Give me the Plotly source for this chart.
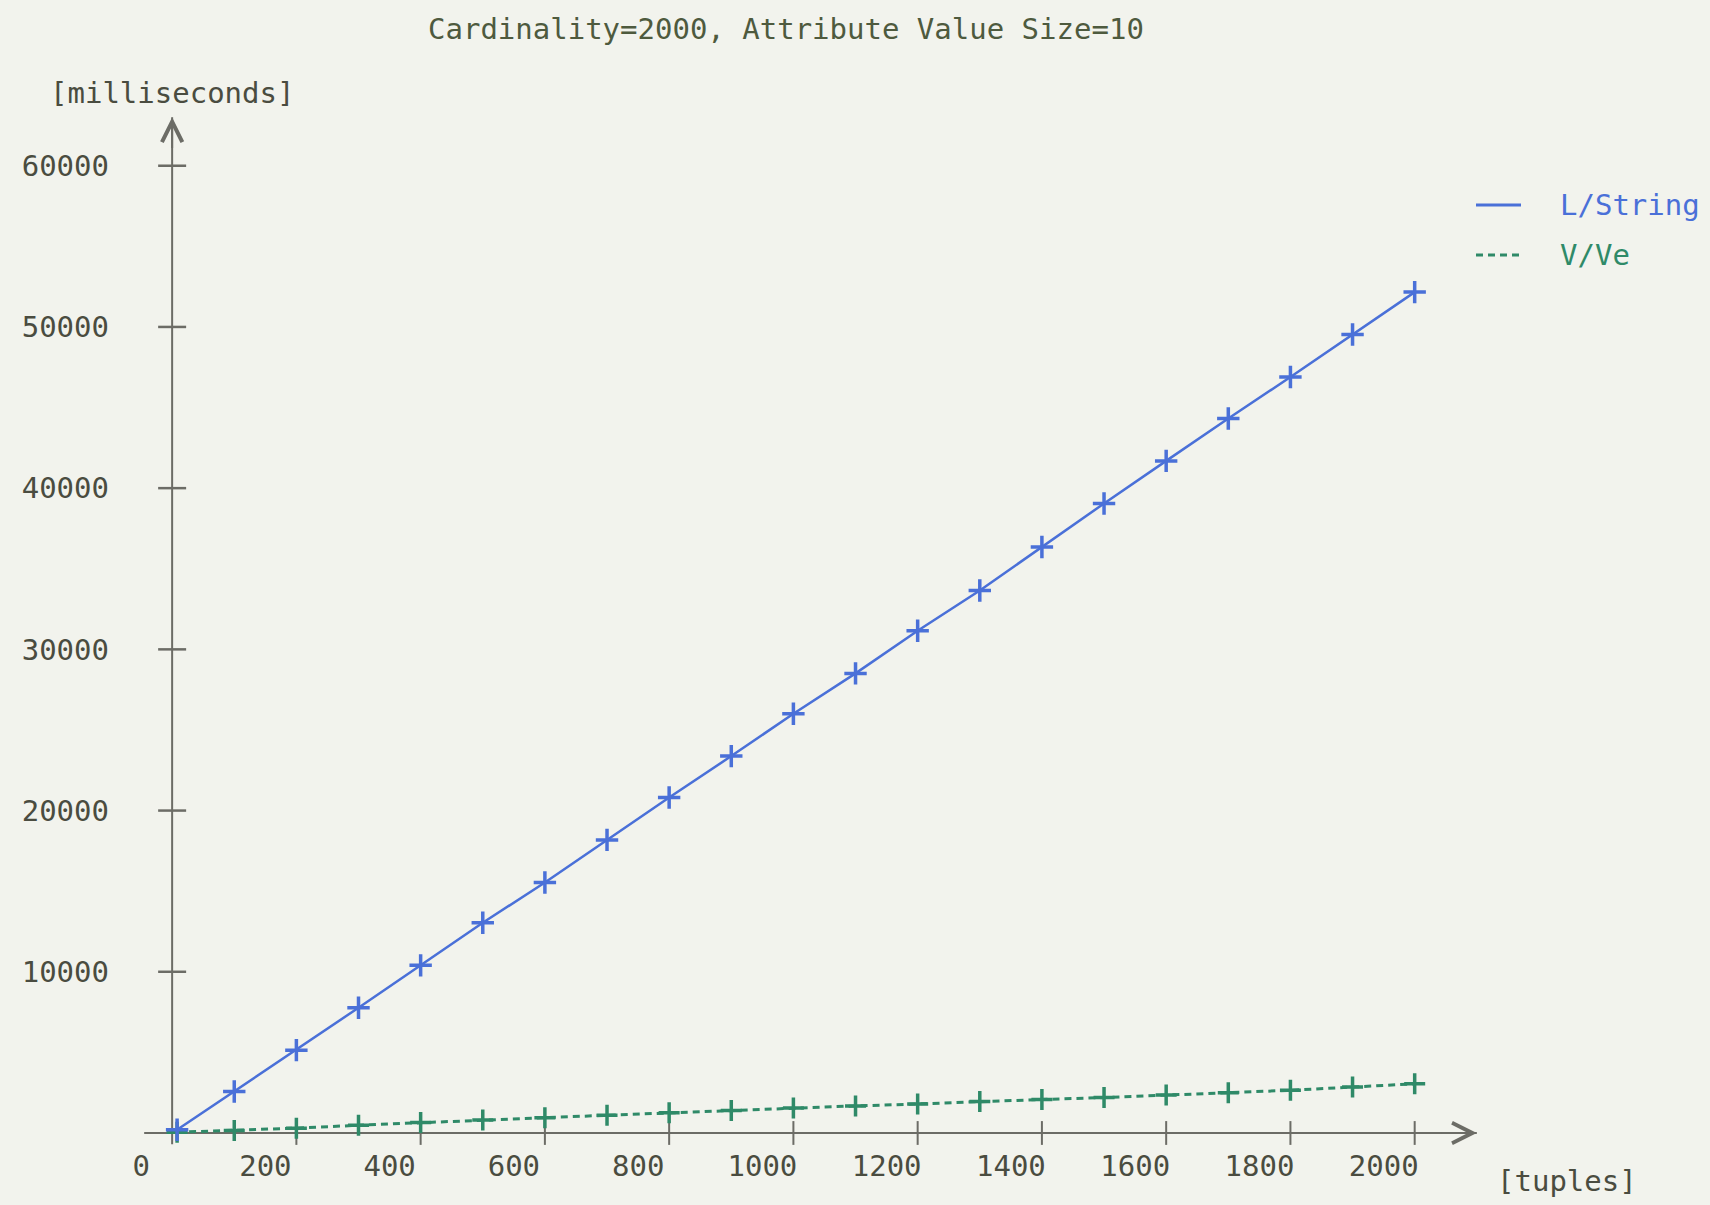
import plotly.graph_objects as go

# Measured run times for the two storage layouts
tuples = [8, 100, 200, 300, 400, 500, 600, 700, 800, 900, 1000,
          1100, 1200, 1300, 1400, 1500, 1600, 1700, 1800, 1900, 2000]
l_string_ms = [200, 2570, 5140, 7770, 10400, 13040, 15540, 18180, 20810, 23380, 26010,
               28510, 31150, 33650, 36350, 39050, 41690, 44320, 46890, 49530, 52160]
v_ve_ms = [50, 150, 300, 480, 650, 800, 950, 1100, 1250, 1400, 1550,
           1680, 1800, 1950, 2080, 2200, 2350, 2500, 2650, 2850, 3050]

series_names = ["L/String", "V/Ve"]

x_ticks = [0, 200, 400, 600, 800, 1000, 1200, 1400, 1600, 1800, 2000]
x_tick_text = ["0", "200", "400", "600", "800", "1000", "1200", "1400", "1600", "1800", "2000"]
y_ticks = [10000, 20000, 30000, 40000, 50000, 60000]
y_tick_text = ["10000", "20000", "30000", "40000", "50000", "60000"]

title_text = "Cardinality=2000, Attribute Value Size=10"
x_title = "[tuples]"
y_title = "[milliseconds]"

# Axis extents (arrow tips) in data units
x_axis_start, x_axis_end = -45, 2100
y_axis_start, y_axis_end = -700, 63000

BG = "#f2f3ed"
AXIS = "#6c6c66"
TEXT = "#4a4c40"
BLUE = "#4a70d8"
GREEN = "#2f8a68"
FONT = "DejaVu Sans Mono"
FS = 29

W, H = 1710, 1205
ML, MR, MT, MB = 110, 140, 69, 55
pw, ph = W - ML - MR, H - MT - MB


def px_to_paper(px, py):
    return (px - ML) / pw, (H - MB - py) / ph


fig = go.Figure()

# Axis lines
fig.add_trace(go.Scatter(x=[x_axis_start, x_axis_end], y=[0, 0], mode="lines",
                         line=dict(color=AXIS, width=2), hoverinfo="skip", showlegend=False))
fig.add_trace(go.Scatter(x=[0, 0], y=[y_axis_start, y_axis_end], mode="lines",
                         line=dict(color=AXIS, width=2), hoverinfo="skip", showlegend=False))

# Tick marks crossing the axes
fig.add_trace(go.Scatter(x=[0] * len(y_ticks), y=y_ticks, mode="markers",
                         marker=dict(symbol="line-ew-open", size=20, color=AXIS,
                                     line=dict(width=2.5, color=AXIS)),
                         hoverinfo="skip", showlegend=False))
fig.add_trace(go.Scatter(x=x_ticks[1:], y=[0] * (len(x_ticks) - 1), mode="markers",
                         marker=dict(symbol="line-ns-open", size=17, color=AXIS,
                                     line=dict(width=2, color=AXIS)),
                         hoverinfo="skip", showlegend=False))

# Data series
fig.add_trace(go.Scatter(x=tuples, y=v_ve_ms, mode="lines+markers", name=series_names[1],
                         line=dict(color=GREEN, width=3, dash="7px,5px"),
                         marker=dict(symbol="cross-thin-open", size=15, color=GREEN,
                                     line=dict(width=3.5, color=GREEN)),
                         showlegend=False))
fig.add_trace(go.Scatter(x=tuples, y=l_string_ms, mode="lines+markers", name=series_names[0],
                         line=dict(color=BLUE, width=2.5),
                         marker=dict(symbol="cross-thin-open", size=16, color=BLUE,
                                     line=dict(width=3.5, color=BLUE)),
                         showlegend=False))

tx_title, ty_title = px_to_paper(786, 29)
tx_x, ty_x = px_to_paper(1567, 1181)

annotations = [
    # arrow heads at the axis ends
    dict(x=x_axis_end, y=0, ax=x_axis_end - 60, ay=0, xref="x", yref="y", axref="x", ayref="y",
         text="", showarrow=True, arrowhead=5, arrowsize=2, arrowwidth=2, arrowcolor=AXIS),
    dict(x=0, y=y_axis_end, ax=0, ay=y_axis_end - 2000, xref="x", yref="y", axref="x", ayref="y",
         text="", showarrow=True, arrowhead=5, arrowsize=2, arrowwidth=2, arrowcolor=AXIS),
    # titles
    dict(x=tx_title, y=ty_title, xref="paper", yref="paper", text=title_text, showarrow=False,
         xanchor="center", yanchor="middle", font=dict(family=FONT, size=FS, color="#4e5a3e")),
    dict(x=0, y=64500, xref="x", yref="y", text=y_title, showarrow=False,
         xanchor="center", yanchor="middle", font=dict(family=FONT, size=FS, color=TEXT)),
    dict(x=tx_x, y=ty_x, xref="paper", yref="paper", text=x_title, showarrow=False,
         xanchor="center", yanchor="middle", font=dict(family=FONT, size=FS, color=TEXT)),
]

# Legend: line samples and labels placed at the upper right
legend_rows = [(series_names[0], BLUE, "solid", 205, 1521),
               (series_names[1], GREEN, "7px,5px", 255, 1519)]
shapes = []
for name, color, dash, py, x_end in legend_rows:
    x0, y0 = px_to_paper(1476, py)
    x1, _ = px_to_paper(x_end, py)
    shapes.append(dict(type="line", xref="paper", yref="paper", x0=x0, x1=x1, y0=y0, y1=y0,
                       line=dict(color=color, width=3, dash=dash)))
    lx, ly = px_to_paper(1558, py)
    annotations.append(dict(x=lx, y=ly, xref="paper", yref="paper", text=name, showarrow=False,
                            xanchor="left", yanchor="middle",
                            font=dict(family=FONT, size=FS, color=color)))

fig.update_layout(
    width=W, height=H,
    margin=dict(l=ML, r=MR, t=MT, b=MB),
    paper_bgcolor=BG, plot_bgcolor=BG,
    showlegend=False,
    annotations=annotations,
    shapes=shapes,
    xaxis=dict(range=[-100, 2250], showgrid=False, zeroline=False, showline=False,
               ticks="", tickvals=x_ticks, ticktext=x_tick_text, ticklabelshift=-31,
               ticklabelstandoff=-4,
               tickfont=dict(family=FONT, size=FS, color=TEXT)),
    yaxis=dict(range=[-1055, 66000], showgrid=False, zeroline=False, showline=False,
               ticks="", tickvals=y_ticks, ticktext=y_tick_text,
               tickfont=dict(family=FONT, size=FS, color=TEXT)),
)

fig.write_html("out.html")
